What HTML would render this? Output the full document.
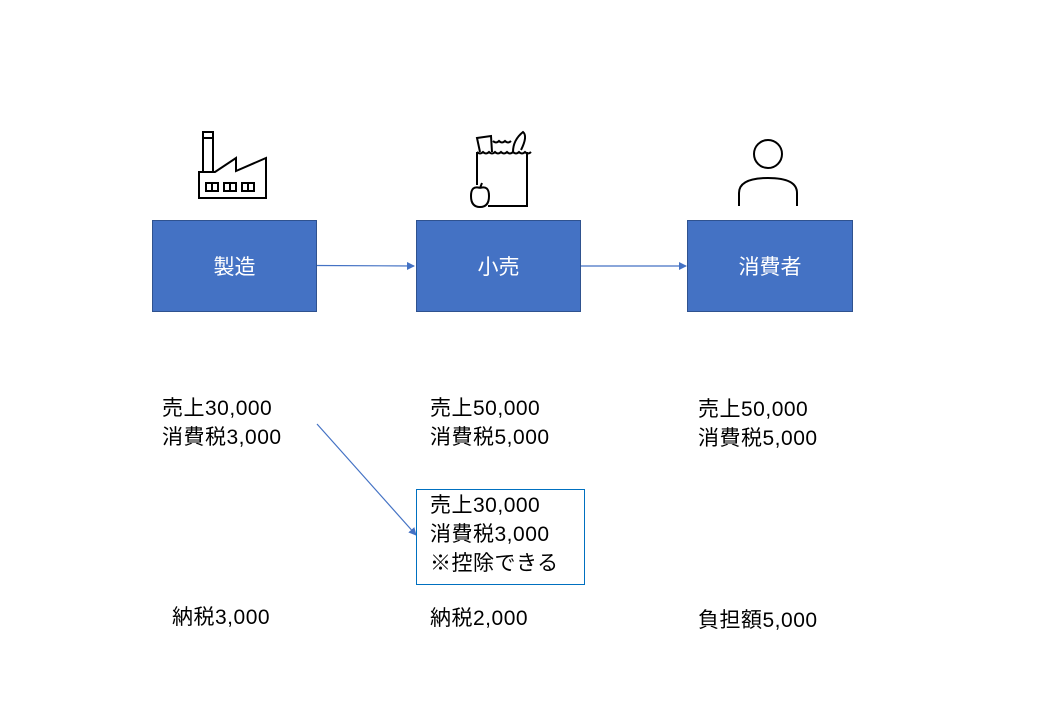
<!DOCTYPE html>
<html><head><meta charset="utf-8"><style>
body{margin:0;width:1040px;height:720px;background:#fff;position:relative;overflow:hidden;font-family:"Liberation Sans","Noto Sans CJK JP",sans-serif;}
.b{position:absolute;background:#4472c4;border:1px solid #2f528f;box-sizing:border-box;color:#fff;font-size:21px;display:flex;align-items:center;justify-content:center;}
.t{position:absolute;font-size:21px;letter-spacing:0.5px;line-height:29px;color:#000;white-space:nowrap;}
</style></head><body>
<svg width="1040" height="720" style="position:absolute;left:0;top:0">
<defs><marker id="a" markerWidth="8" markerHeight="8" refX="7" refY="4" orient="auto" markerUnits="userSpaceOnUse"><path d="M0,0 L8,4 L0,8z" fill="#4472c4"/></marker></defs>
<line x1="316" y1="265.5" x2="414" y2="266" stroke="#4472c4" stroke-width="1.2" marker-end="url(#a)"/>
<line x1="580" y1="266" x2="686" y2="266" stroke="#4472c4" stroke-width="1.2" marker-end="url(#a)"/>
<line x1="317" y1="424" x2="416" y2="535" stroke="#4472c4" stroke-width="1.2" marker-end="url(#a)"/>
<g fill="none" stroke="#000" stroke-width="2">
<path d="M199,198 V172 H215 L236,158 V171 L266,158 V198 Z"/>
<path d="M199,172 H213 V132 H203 V172"/>
<path d="M203,138 H213"/>
<rect x="206" y="183" width="12" height="8"/><rect x="224" y="183" width="12" height="8"/><rect x="242" y="183" width="12" height="8"/>
<path d="M212,183 V191 M230,183 V191 M248,183 V191"/>
<path d="M477,152 V185 M488,206 H527 V152"/>
<path d="M477,152 q3,3 6,0 q3,3 6,0 q3,3 6,0 q3,3 6,0 q3,3 6,0 q3,3 6,0 q3,3 6,0 q3,3 6,0 q3,3 6,0"/>
<path d="M480,152 L477,138 L491,136 L492,152"/>
<path d="M493,141 q3,3 6,0 q3,3 6,0 q3,3 6,0"/>
<path d="M513,152 q0,-12 10,-20 q5,4 -2,18"/>
<path d="M480,188 q-9,-3 -9,8 q0,11 9,11 q9,0 9,-11 q0,-11 -9,-8 M480,188 l2,-5"/>
<circle cx="768" cy="154" r="14"/>
<path d="M739,206 V193 q0,-15 29,-15 q29,0 29,15 V206"/>
</g>
</svg>
<div class="b" style="left:152px;top:220px;width:165px;height:92px">製造</div>
<div class="b" style="left:416px;top:220px;width:165px;height:92px">小売</div>
<div class="b" style="left:687px;top:220px;width:166px;height:92px">消費者</div>
<div class="t" style="left:162px;top:394px">売上30,000<br>消費税3,000</div>
<div class="t" style="left:430px;top:394px">売上50,000<br>消費税5,000</div>
<div class="t" style="left:698px;top:395px">売上50,000<br>消費税5,000</div>
<div style="position:absolute;left:416px;top:489px;width:169px;height:96px;border:1.5px solid #0070c0;box-sizing:border-box"></div>
<div class="t" style="left:430px;top:491px">売上30,000<br>消費税3,000<br>※控除できる</div>
<div class="t" style="left:172px;top:603px">納税3,000</div>
<div class="t" style="left:430px;top:604px">納税2,000</div>
<div class="t" style="left:698px;top:606px">負担額5,000</div>
</body></html>
